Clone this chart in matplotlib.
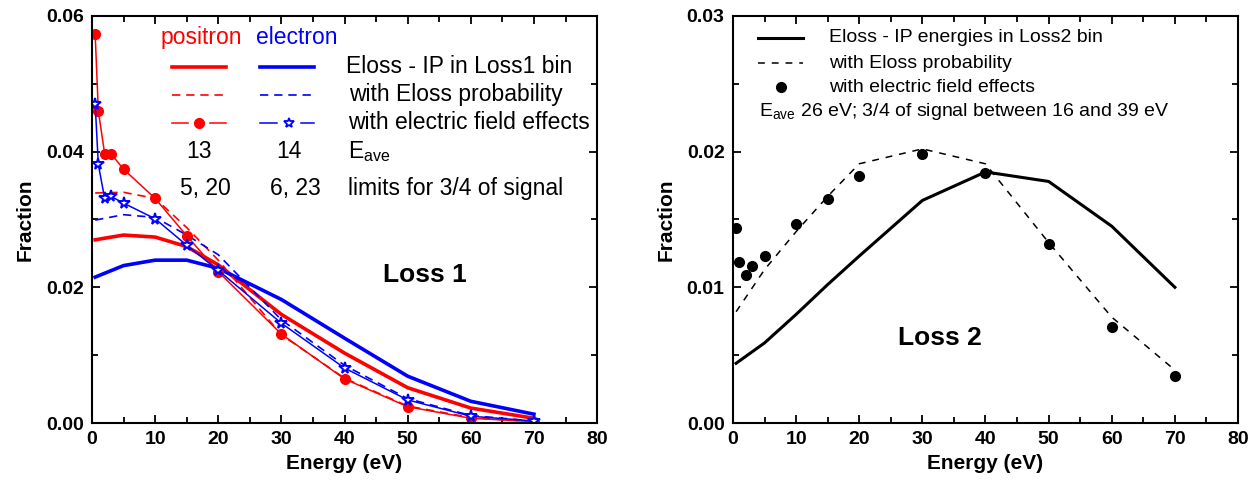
import numpy as np
import matplotlib.pyplot as plt
from matplotlib.ticker import MultipleLocator

plt.rcParams['font.family'] = ['Liberation Sans', 'DejaVu Sans']
plt.rcParams['mathtext.fontset'] = 'custom'
plt.rcParams['mathtext.rm'] = 'Liberation Sans'

# Loss 1 panel
e_line = [0.5, 5, 10, 15, 20, 30, 40, 50, 60, 70]
pos_ip = [0.0270, 0.0277, 0.0274, 0.0260, 0.0233, 0.0160, 0.0103, 0.0052, 0.0022, 0.0007]
ele_ip = [0.0215, 0.0232, 0.0240, 0.0240, 0.0228, 0.0182, 0.0125, 0.0069, 0.0032, 0.0013]
pos_prob = [0.0339, 0.0340, 0.0331, 0.0288, 0.0240, 0.0130, 0.0066, 0.0025, 0.0008, 0.0002]
ele_prob = [0.0299, 0.0307, 0.0303, 0.0277, 0.0248, 0.0152, 0.0085, 0.0036, 0.0011, 0.0003]

e_pts = [0.5, 1, 2, 3, 5, 10, 15, 20, 30, 40, 50, 60, 70]
pos_field = [0.0573, 0.0460, 0.0397, 0.0397, 0.0374, 0.0331, 0.0276, 0.0223, 0.0131,
             0.0065, 0.0024, 0.0007, 0.0002]
ele_field = [0.0470, 0.0381, 0.0331, 0.0334, 0.0324, 0.0301, 0.0262, 0.0225, 0.0147,
             0.0081, 0.0034, 0.0010, 0.0003]

# Loss 2 panel
e2_line = [0.5, 5, 10, 15, 20, 30, 40, 50, 60, 70]
l2_ip = [0.0044, 0.0059, 0.0080, 0.0102, 0.0123, 0.0164, 0.0185, 0.0178, 0.0145, 0.0100]
l2_prob = [0.0082, 0.0113, 0.0141, 0.0167, 0.0191, 0.0202, 0.0191, 0.0133, 0.0078, 0.0039]
l2_field = [0.0144, 0.0119, 0.0109, 0.0116, 0.0123, 0.0147, 0.0165, 0.0182, 0.0198,
            0.0184, 0.0132, 0.0071, 0.0035]

RED = '#ff0000'
BLUE = '#0000ff'

fig = plt.figure(figsize=(12.57, 4.87), dpi=100)
ax1 = fig.add_axes([0.0732, 0.1314, 0.4018, 0.836])
ax2 = fig.add_axes([0.5831, 0.1314, 0.4018, 0.836])


def style_axes(ax, ymax, ymaj, ymin):
    ax.set_xlim(0, 80)
    ax.set_ylim(0, ymax)
    ax.xaxis.set_major_locator(MultipleLocator(10))
    ax.xaxis.set_minor_locator(MultipleLocator(5))
    ax.yaxis.set_major_locator(MultipleLocator(ymaj))
    ax.yaxis.set_minor_locator(MultipleLocator(ymin))
    ax.tick_params(which='both', direction='in', top=True, right=True, width=1.3)
    ax.tick_params(which='major', length=6, labelsize=14, pad=6)
    ax.tick_params(which='minor', length=4)
    for lab in ax.get_xticklabels() + ax.get_yticklabels():
        lab.set_fontweight('bold')
    for s in ax.spines.values():
        s.set_linewidth(1.5)
    ax.set_xlabel('Energy (eV)', fontsize=15, fontweight='bold', labelpad=4)
    ax.set_ylabel('Fraction', fontsize=15, fontweight='bold', labelpad=8)


# left panel
ax1.plot(e_line, pos_ip, color=RED, lw=2.6)
ax1.plot(e_line, ele_ip, color=BLUE, lw=2.6)
ax1.plot(e_line, pos_prob, color=RED, lw=1.2, dashes=(5, 3.5))
ax1.plot(e_line, ele_prob, color=BLUE, lw=1.2, dashes=(5, 3.5))
ax1.plot(e_pts, pos_field, color=RED, lw=1.1, marker='o', ms=7)
ax1.plot(e_pts, ele_field, color=BLUE, lw=1.1, marker='*', ms=8.5, mfc='white', mew=1.4)
style_axes(ax1, 0.06, 0.02, 0.01)
ax1.yaxis.set_major_formatter(plt.FormatStrFormatter('%.2f'))

t = ax1.transAxes
fs = 16.5
ax1.text(0.216, 0.946, 'positron', color=RED, fontsize=fs, ha='center', va='center', transform=t)
ax1.text(0.406, 0.946, 'electron', color=BLUE, fontsize=fs, ha='center', va='center', transform=t)
ax1.plot([0.158, 0.265], [0.875, 0.875], color=RED, lw=2.6, transform=t)
ax1.plot([0.333, 0.440], [0.875, 0.875], color=BLUE, lw=2.6, transform=t)
ax1.plot([0.158, 0.265], [0.806, 0.806], color=RED, lw=1.2, dashes=(5, 3.5), transform=t)
ax1.plot([0.333, 0.440], [0.806, 0.806], color=BLUE, lw=1.2, dashes=(5, 3.5), transform=t)
ax1.plot([0.158, 0.190], [0.737, 0.737], color=RED, lw=1.1, transform=t)
ax1.plot([0.234, 0.265], [0.737, 0.737], color=RED, lw=1.1, transform=t)
ax1.plot([0.212], [0.737], color=RED, marker='o', ms=7, transform=t)
ax1.plot([0.333, 0.366], [0.737, 0.737], color=BLUE, lw=1.1, transform=t)
ax1.plot([0.414, 0.440], [0.737, 0.737], color=BLUE, lw=1.1, transform=t)
ax1.plot([0.390], [0.737], color=BLUE, marker='*', ms=7.5, mfc='white', mew=1.3, transform=t)
ax1.text(0.503, 0.875, 'Eloss - IP in Loss1 bin', fontsize=fs, va='center', transform=t)
ax1.text(0.509, 0.806, 'with Eloss probability', fontsize=fs, va='center', transform=t)
ax1.text(0.507, 0.737, 'with electric field effects', fontsize=fs, va='center', transform=t)
ax1.text(0.212, 0.667, '13', fontsize=fs, ha='center', va='center', transform=t)
ax1.text(0.390, 0.667, '14', fontsize=fs, ha='center', va='center', transform=t)
ax1.text(0.507, 0.667, r'E$_{\mathregular{ave}}$', fontsize=fs, va='center', transform=t)
ax1.text(0.224, 0.577, '5, 20', fontsize=fs, ha='center', va='center', transform=t)
ax1.text(0.402, 0.577, '6, 23', fontsize=fs, ha='center', va='center', transform=t)
ax1.text(0.507, 0.577, 'limits for 3/4 of signal', fontsize=fs, va='center', transform=t)
ax1.text(52.8, 0.0218, 'Loss 1', fontsize=19, fontweight='bold', ha='center', va='center')

# right panel
ax2.plot(e2_line, l2_ip, color='black', lw=2.2)
ax2.plot(e2_line, l2_prob, color='black', lw=1.1, dashes=(4.5, 4.5))
ax2.plot(e_pts, l2_field, color='black', ls='none', marker='o', ms=7)
style_axes(ax2, 0.03, 0.01, 0.005)
ax2.yaxis.set_major_formatter(plt.FormatStrFormatter('%.2f'))

t2 = ax2.transAxes
fs2 = 14
ax2.plot([0.0495, 0.1386], [0.946, 0.946], color='black', lw=2.2, transform=t2)
ax2.plot([0.0495, 0.1386], [0.884, 0.884], color='black', lw=1.1, dashes=(4.5, 4.5), transform=t2)
ax2.plot([0.0945], [0.825], color='black', marker='o', ms=7, transform=t2)
ax2.text(0.190, 0.946, 'Eloss - IP energies in Loss2 bin', fontsize=fs2, va='center', transform=t2)
ax2.text(0.190, 0.884, 'with Eloss probability', fontsize=fs2, va='center', transform=t2)
ax2.text(0.190, 0.825, 'with electric field effects', fontsize=fs2, va='center', transform=t2)
ax2.text(0.0515, 0.765, r'E$_{\mathregular{ave}}$ 26 eV; 3/4 of signal between 16 and 39 eV',
         fontsize=fs2, va='center', transform=t2)
ax2.text(32.8, 0.00627, 'Loss 2', fontsize=19, fontweight='bold', ha='center', va='center')

fig.savefig('out.png', dpi=100)
